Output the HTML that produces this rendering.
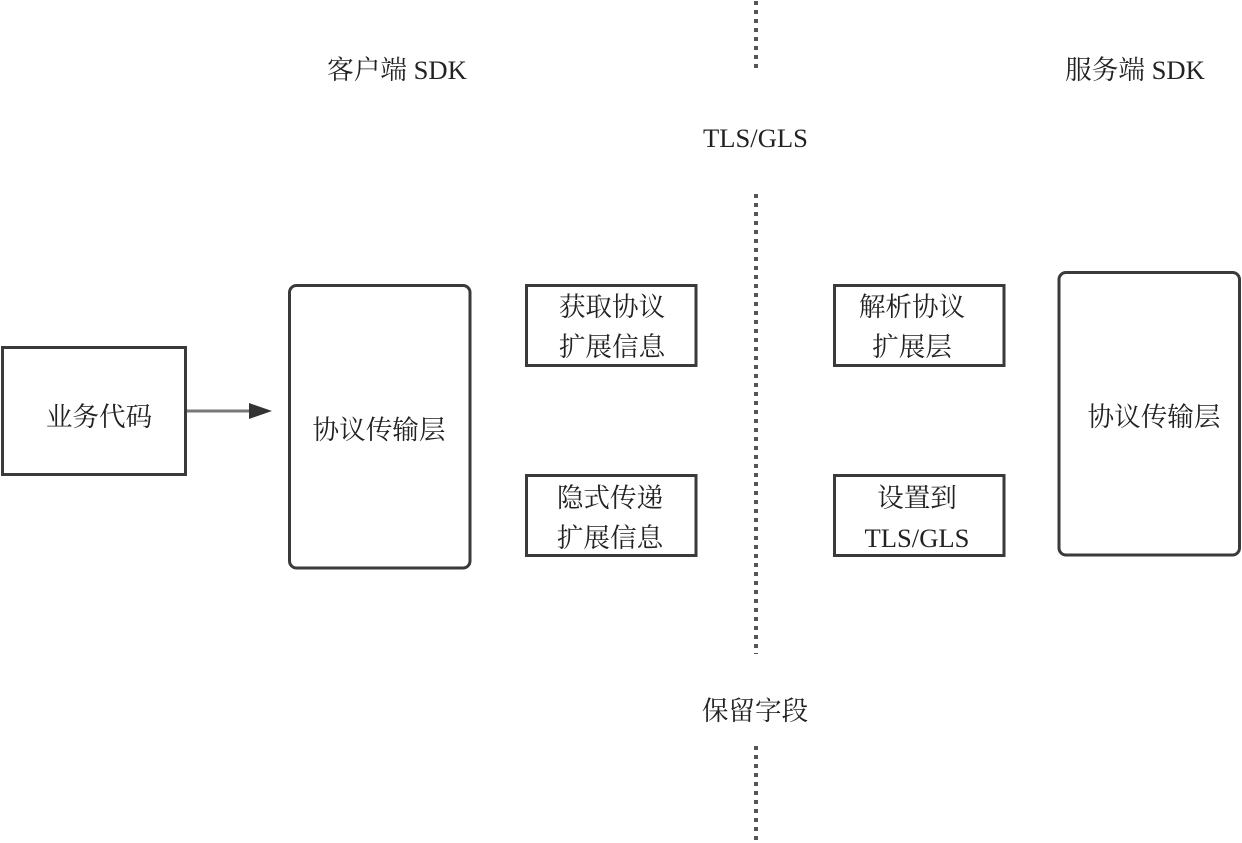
<!DOCTYPE html>
<html><head><meta charset="utf-8"><style>
html,body{margin:0;padding:0;background:#fff;width:1242px;height:843px;overflow:hidden}
svg{display:block}
text{font-family:"Liberation Serif","Noto Serif CJK SC",serif;font-size:26.6px;fill:#222;text-anchor:middle}
.b{fill:#fff;stroke:#3a3a3a;stroke-width:3}
.d{stroke:#555;stroke-width:4;stroke-dasharray:4 5;fill:none}
</style></head><body>
<svg width="1242" height="843" viewBox="0 0 1242 843">
<rect class="b" x="2.5" y="347.5" width="183" height="127"/>
<rect class="b" x="289.5" y="285.5" width="180.5" height="282.5" rx="7"/>
<rect class="b" x="526.5" y="285.5" width="169.5" height="80"/>
<rect class="b" x="526.5" y="475.5" width="169.5" height="80"/>
<rect class="b" x="834.5" y="285.5" width="169.5" height="80"/>
<rect class="b" x="834.5" y="475.5" width="169.5" height="80"/>
<rect class="b" x="1059" y="272.5" width="180.5" height="282.5" rx="7"/>
<line x1="187" y1="411" x2="250" y2="411" stroke="#777" stroke-width="3"/>
<polygon points="249,403 272,411 249,419" fill="#333"/>
<path class="d" d="M756 1V70"/>
<path class="d" d="M756 194V654"/>
<path class="d" d="M756 746V842"/>
<text x="397" y="79">客户端 SDK</text>
<text x="1135" y="79">服务端 SDK</text>
<text x="755.5" y="147">TLS/GLS</text>
<text x="755" y="720">保留字段</text>
<text x="99" y="426">业务代码</text>
<text x="379" y="439">协议传输层</text>
<text x="612" y="316">获取协议</text>
<text x="612" y="356">扩展信息</text>
<text x="610" y="507">隐式传递</text>
<text x="610" y="547">扩展信息</text>
<text x="912" y="316">解析协议</text>
<text x="912" y="356">扩展层</text>
<text x="917" y="507">设置到</text>
<text x="917" y="547">TLS/GLS</text>
<text x="1154" y="426">协议传输层</text>
</svg>
</body></html>
